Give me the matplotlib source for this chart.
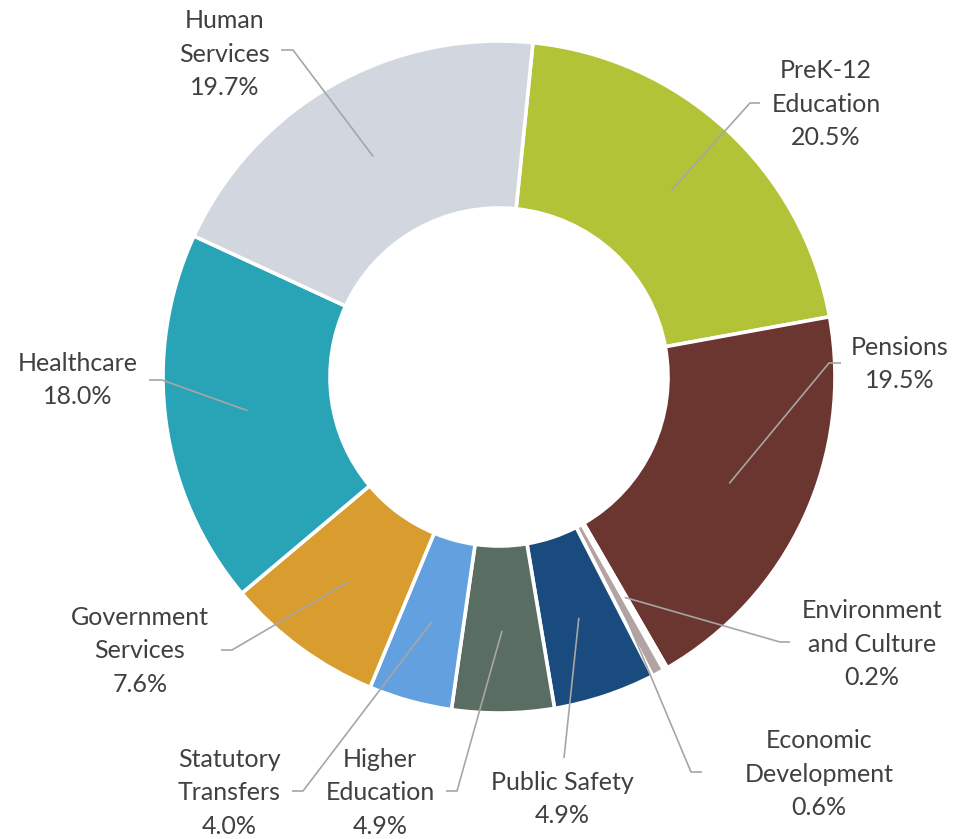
import numpy as np
import matplotlib
matplotlib.use("Agg")
import matplotlib.pyplot as plt

# ---- data ----
categories = ["PreK-12\nEducation", "Pensions", "Environment\nand Culture", "Economic\nDevelopment",
              "Public Safety", "Higher\nEducation", "Statutory\nTransfers", "Government\nServices",
              "Healthcare", "Human\nServices"]
values = [20.5, 19.5, 0.2, 0.6, 4.9, 4.9, 4.0, 7.6, 18.0, 19.7]
colors = ["#B2C337", "#6B3530", "#EDE6E6", "#B3A3A3", "#1A4B7E", "#5A6D62",
          "#62A0DF", "#D99D2F", "#29A4B6", "#D2D7DF"]

# ---- layout (pixel coords, y from top) ----
W, H = 966, 839
cx, cy, R = 499, 377, 336
label_pos = [(826, 104), (900, 364), (872, 644), (819, 774), (562, 799),
             (380, 793), (229, 793), (140, 651), (78, 380), (225, 54)]
# leader: list of points (elbow, end) from anchor toward label
leaders = [[(750, 103), (760, 103)],
           [(829, 363), (841, 363)],
           [(780, 642), (790, 642)],
           [(691, 772), (702, 772)],
           [(564, 758)],
           [(457, 791), (446, 791)],
           [(303, 791), (292, 791)],
           [(232, 650), (221, 650)],
           [(162, 380), (149, 380)],
           [(293, 50), (281, 50)]]

def fy(y):
    return H - y

fig = plt.figure(figsize=(W / 100, H / 100), dpi=100)
ax = fig.add_axes([0, 0, 1, 1])

wedges, _ = ax.pie(values, colors=colors, startangle=90 - 5.8, counterclock=False,
                   radius=R, center=(cx, fy(cy)),
                   wedgeprops=dict(width=R * 0.497, edgecolor="white", linewidth=2.6))
ax.set_xlim(0, W)
ax.set_ylim(0, H)
ax.set_aspect("equal")
ax.axis("off")

for w, lab, val, pos, ld in zip(wedges, categories, values, label_pos, leaders):
    mid = np.deg2rad((w.theta1 + w.theta2) / 2)
    ax_x = cx + 0.755 * R * np.cos(mid)
    ax_y = fy(cy) + 0.755 * R * np.sin(mid)
    xs = [ax_x] + [p[0] for p in ld]
    ys = [ax_y] + [fy(p[1]) for p in ld]
    ax.plot(xs, ys, color="#A6A6A6", lw=1.2, solid_capstyle="butt", zorder=5)
    ax.text(pos[0], fy(pos[1]), f"{lab}\n{val:.1f}%", ha="center", va="center",
            multialignment="center", fontsize=18, family=["Lato", "DejaVu Sans"],
            color="#404040", linespacing=1.55, zorder=6)

fig.savefig("out.png", dpi=100, facecolor="white")
